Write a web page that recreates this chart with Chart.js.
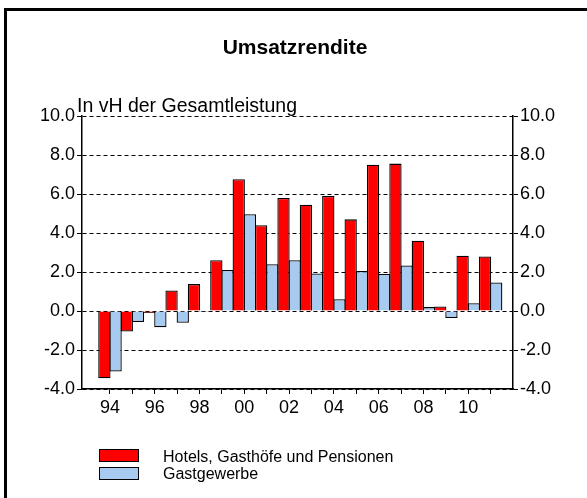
<!DOCTYPE html>
<html><head><meta charset="utf-8">
<script src="https://cdn.jsdelivr.net/npm/chart.js@4"></script>
<style>
html,body{margin:0;padding:0;width:587px;height:498px;overflow:hidden;background:#fff;font-family:"Liberation Sans",Arial,sans-serif;}
#frame{position:absolute;left:4px;top:8px;width:700px;height:600px;border-left:3px solid #000;border-top:3px solid #000;box-sizing:border-box;}
#wrap{position:absolute;left:0;top:0;width:587px;height:498px;}
.t{position:absolute;white-space:nowrap;color:#000;line-height:1;}
.box{position:absolute;width:38px;height:11px;border:1px solid #000;}
</style></head><body>
<div id="frame"></div>
<div id="wrap"><canvas id="c" width="587" height="498"></canvas></div>
<div class="t" style="left:0;width:590px;text-align:center;top:36px;font-weight:bold;font-size:21px;">Umsatzrendite</div>
<div class="t" style="left:77px;top:96px;font-size:19.5px;">In vH der Gesamtleistung</div>
<div class="box" style="left:99px;top:449px;background:#FF0000;"></div>
<div class="box" style="left:99px;top:467px;background:#A6CAF0;"></div>
<div class="t" style="left:163px;top:449px;font-size:16px;">Hotels, Gasthöfe und Pensionen</div>
<div class="t" style="left:163px;top:466px;font-size:16px;">Gastgewerbe</div>
<script>
const years = [1994,1995,1996,1997,1998,1999,2000,2001,2002,2003,2004,2005,2006,2007,2008,2009,2010,2011];
const xTickLabels = ['94','','96','','98','','00','','02','','04','','06','','08','','10',''];
const hotels = [-3.45,-1.05,-0.1,1.05,1.38,2.6,6.76,4.4,5.8,5.45,5.9,4.7,7.5,7.56,3.6,0.23,2.83,2.8];
const gastgewerbe = [-3.1,-0.57,-0.83,-0.6,-0.05,2.1,4.96,2.4,2.6,1.92,0.6,2.05,1.9,2.33,0.2,-0.36,0.4,1.46];
const yTicks = [-4,-2,0,2,4,6,8,10];
const seriesNames = ['Hotels, Gasthöfe und Pensionen','Gastgewerbe'];

const font = {family:'"Liberation Sans", Arial, sans-serif', size:18};
const yTickCfg = {
  afterBuildTicks: s => { s.ticks = yTicks.map(v => ({value:v})); },
  ticks: {callback: v => v.toFixed(1), color:'#000', font: font, padding: 2}
};

new Chart(document.getElementById('c'), {
  type: 'bar',
  data: {
    datasets: [
      {label: seriesNames[0], data: years.map((y,i)=>({x:y, y:hotels[i]})),
       backgroundColor:'#FF0000', borderColor:'#000', borderWidth:1.3,
       barPercentage:1.1, categoryPercentage:1},
      {label: seriesNames[1], data: years.map((y,i)=>({x:y, y:gastgewerbe[i]})),
       backgroundColor:'#A6CAF0', borderColor:'#000', borderWidth:1.3,
       barPercentage:1.1, categoryPercentage:1}
    ]
  },
  options: {
    responsive:false, animation:false, devicePixelRatio:1,
    layout:{padding:{top:116, left:0, right:0, bottom:0}},
    plugins:{legend:{display:false}, tooltip:{enabled:false}, title:{display:false}},
    scales:{
      x:{type:'linear', min:1992.75, max:2012, offset:false,
         afterBuildTicks: s => { s.ticks = years.map(v => ({value:v})); },
         ticks:{autoSkip:false, maxRotation:0, minRotation:0, color:'#000', font: font, padding:3,
                callback:(v,i)=> xTickLabels[i]},
         grid:{drawOnChartArea:false, offset:false, color:'#000', tickLength:5},
         border:{color:'#000', width:1.5},
         afterFit: s => { s.height = 109; }},
      y:{type:'linear', position:'left', min:-4, max:10, ...yTickCfg,
         grid:{color:'#000', lineWidth:1, tickLength:5},
         border:{color:'#000', width:1.5, dash:[4,3]},
         afterFit: s => { s.width = 82; }},
      y2:{type:'linear', position:'right', min:-4, max:10, ...yTickCfg,
         grid:{drawOnChartArea:false, color:'#000', tickLength:5},
         border:{color:'#000', width:1.5},
         afterFit: s => { s.width = 74; }}
    }
  }
});
</script>
</body></html>
